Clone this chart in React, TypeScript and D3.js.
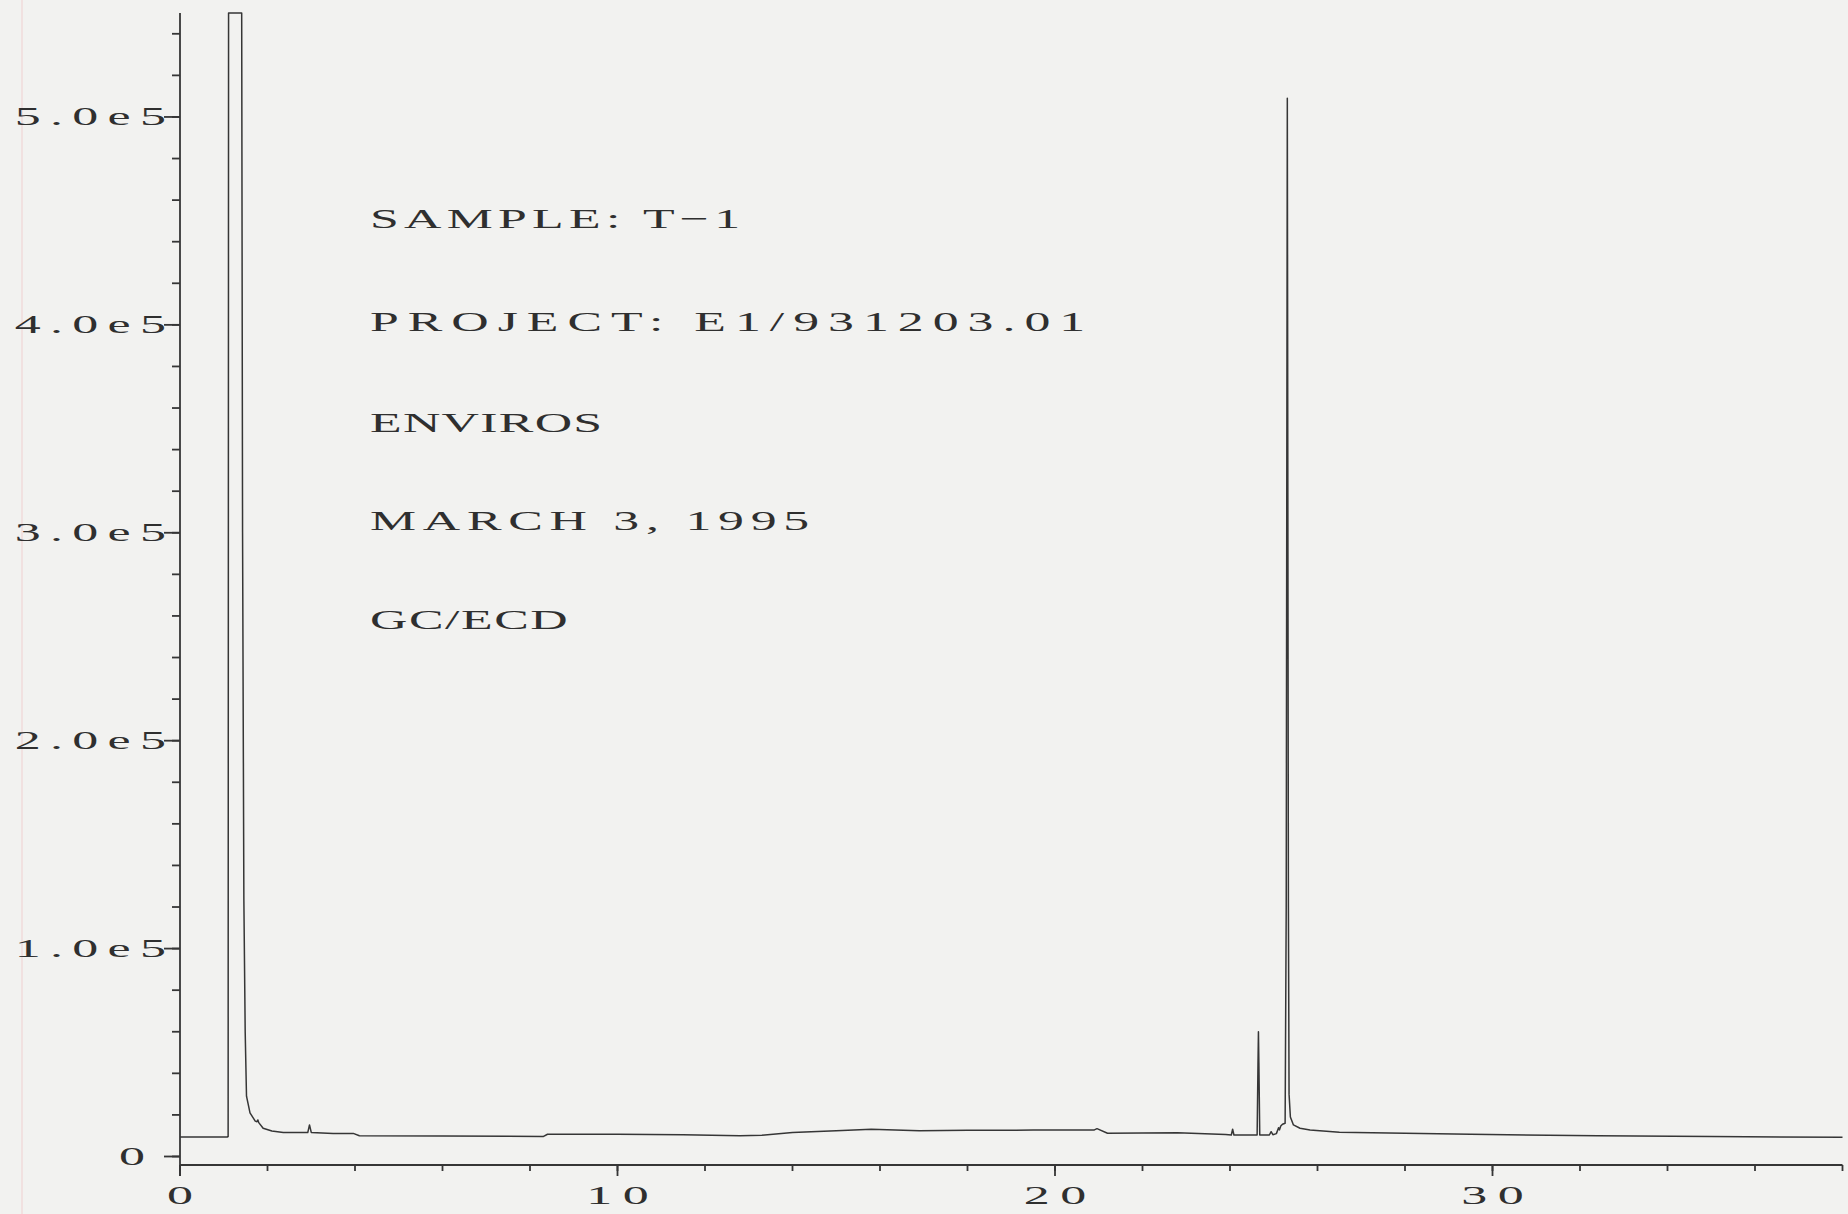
import React from 'react'
import * as d3 from 'd3'

const W = 1848
const H = 1214

// retention time (min) and detector response
const retentionTimes = [
  0, 1.08, 1.10, 1.11, 1.41, 1.43, 1.46, 1.49, 1.52, 1.60, 1.72, 1.76, 1.78, 1.80, 1.90,
  2.10, 2.36, 2.92, 2.96, 3.00, 3.50, 3.96, 4.10, 6.00, 8.30, 8.40, 10.0, 11.5, 12.8, 13.3,
  14.0, 15.0, 15.8, 16.9, 18.0, 19.5, 20.90, 20.96, 21.20, 22.8, 23.90, 24.03, 24.06, 24.09,
  24.30, 24.62, 24.64, 24.65, 24.66, 24.68, 24.90, 24.94, 24.98, 25.06, 25.11, 25.13, 25.16,
  25.20, 25.26, 25.285, 25.31, 25.335, 25.35, 25.38, 25.45, 25.60, 25.83, 26.5, 28.0, 29.5,
  32.4, 35.0, 38.0
]
const responses = [
  9400, 9400, 9600, 550000, 550000, 300000, 123000, 60000, 29000, 21000, 17000, 16700, 17600, 16300, 13600,
  12300, 11600, 11500, 15200, 11600, 11100, 11100, 10000, 9900, 9600, 10700, 10700, 10500, 10000, 10200,
  11600, 12400, 13100, 12400, 12600, 12700, 12800, 13400, 11200, 11400, 10600, 10340, 13100, 10340,
  10300, 10400, 45000, 60000, 45000, 10400, 10340, 11930, 10500, 11000, 13850, 12800, 14670,
  15500, 16000, 120000, 509000, 120000, 30000, 19000, 15200, 13600, 12750, 11640, 11200, 10680,
  10000, 9600, 9200
]

const yMajorTicks = [0, 1e5, 2e5, 3e5, 4e5, 5e5]
const yMinorTicks = d3.range(0, 5.5e5, 2e4)
const xMajorTicks = [0, 10, 20, 30]
const xMinorTicks = d3.range(0, 38.01, 2)

const headerLines = ['SAMPLE: T−1', 'PROJECT: E1/931203.01', 'ENVIROS', 'MARCH 3, 1995', 'GC/ECD']

const INK = '#363636'
const FONT = '"Liberation Serif", "DejaVu Serif", serif'

// wide plotter-style lettering: stretch glyphs and spread them on a fixed pitch
function PlotText({ x, y, text, size, pitch, stretch, anchor = 'start' }: any) {
  const common = { fontFamily: FONT, fontSize: size, fill: '#2f2f2f' }
  if (text.length === 1) {
    return (
      <text transform={`translate(${x},${y}) scale(${stretch},1)`} textAnchor={anchor} {...common}>{text}</text>
    )
  }
  const width = text.length * pitch - pitch * 0.27
  const left = anchor === 'end' ? x - width : anchor === 'middle' ? x - width / 2 : x
  return (
    <text transform={`translate(${left},${y}) scale(${stretch},1)`}
      textLength={width / stretch} lengthAdjust="spacing" {...common}>{text}</text>
  )
}

export default function App() {
  const x = d3.scaleLinear().domain([0, 38]).range([180, 1842.5])
  const y = d3.scaleLinear().domain([0, 5.5e5]).range([1156.5, 13])
  const axisY = 1165

  const trace = d3.line<number>()
    .x((_, i) => x(retentionTimes[i]))
    .y(d => y(d))(responses)

  const fmt = (v: number) => (v === 0 ? '0' : d3.format('.1e')(v).replace('+', ''))

  return (
    <svg width={W} height={H} style={{ position: 'absolute', left: 0, top: 0, display: 'block' }}>
      <rect width={W} height={H} fill="#f2f2f0" />
      <line x1={22} x2={22} y1={0} y2={H} stroke="#f0d6d6" strokeWidth={1.2} />

      {/* y axis */}
      <g stroke={INK} strokeWidth={1.8} fill="none">
        <line x1={x(0)} x2={x(0)} y1={y(5.5e5)} y2={axisY + 11} />
        {yMinorTicks.map(v => (
          <line key={'ym' + v} x1={x(0) - 8} x2={x(0)} y1={y(v)} y2={y(v)} />
        ))}
        {yMajorTicks.map(v => (
          <line key={'yM' + v} x1={x(0) - 16} x2={x(0)} y1={y(v)} y2={y(v)} />
        ))}
      </g>
      {yMajorTicks.map(v => (
        <PlotText key={'yl' + v} x={v === 0 ? 145 : 166} y={y(v) + 8.5} text={fmt(v)}
          size={26} pitch={32} stretch={2.0} anchor="end" />
      ))}

      {/* x axis */}
      <g stroke={INK} strokeWidth={1.8} fill="none">
        <line x1={x(0)} x2={x(38)} y1={axisY} y2={axisY} />
        {xMinorTicks.map(t => (
          <line key={'xm' + t} x1={x(t)} x2={x(t)} y1={axisY} y2={axisY + 6} />
        ))}
        {xMajorTicks.map(t => (
          <line key={'xM' + t} x1={x(t)} x2={x(t)} y1={axisY} y2={axisY + 11} />
        ))}
      </g>
      {xMajorTicks.map(t => (
        <PlotText key={'xl' + t} x={x(t)} y={1204} text={String(t)}
          size={26} pitch={36} stretch={2.0} anchor="middle" />
      ))}

      {/* chromatogram trace */}
      <path d={trace || ''} fill="none" stroke={INK} strokeWidth={1.5} strokeLinejoin="round" />

      {/* sample annotation */}
      {headerLines.map((s, i) => (
        <PlotText key={s} x={370} y={[228, 331, 432, 530, 629][i]} text={s}
          size={28} pitch={34.5} stretch={1.85} />
      ))}
    </svg>
  )
}
